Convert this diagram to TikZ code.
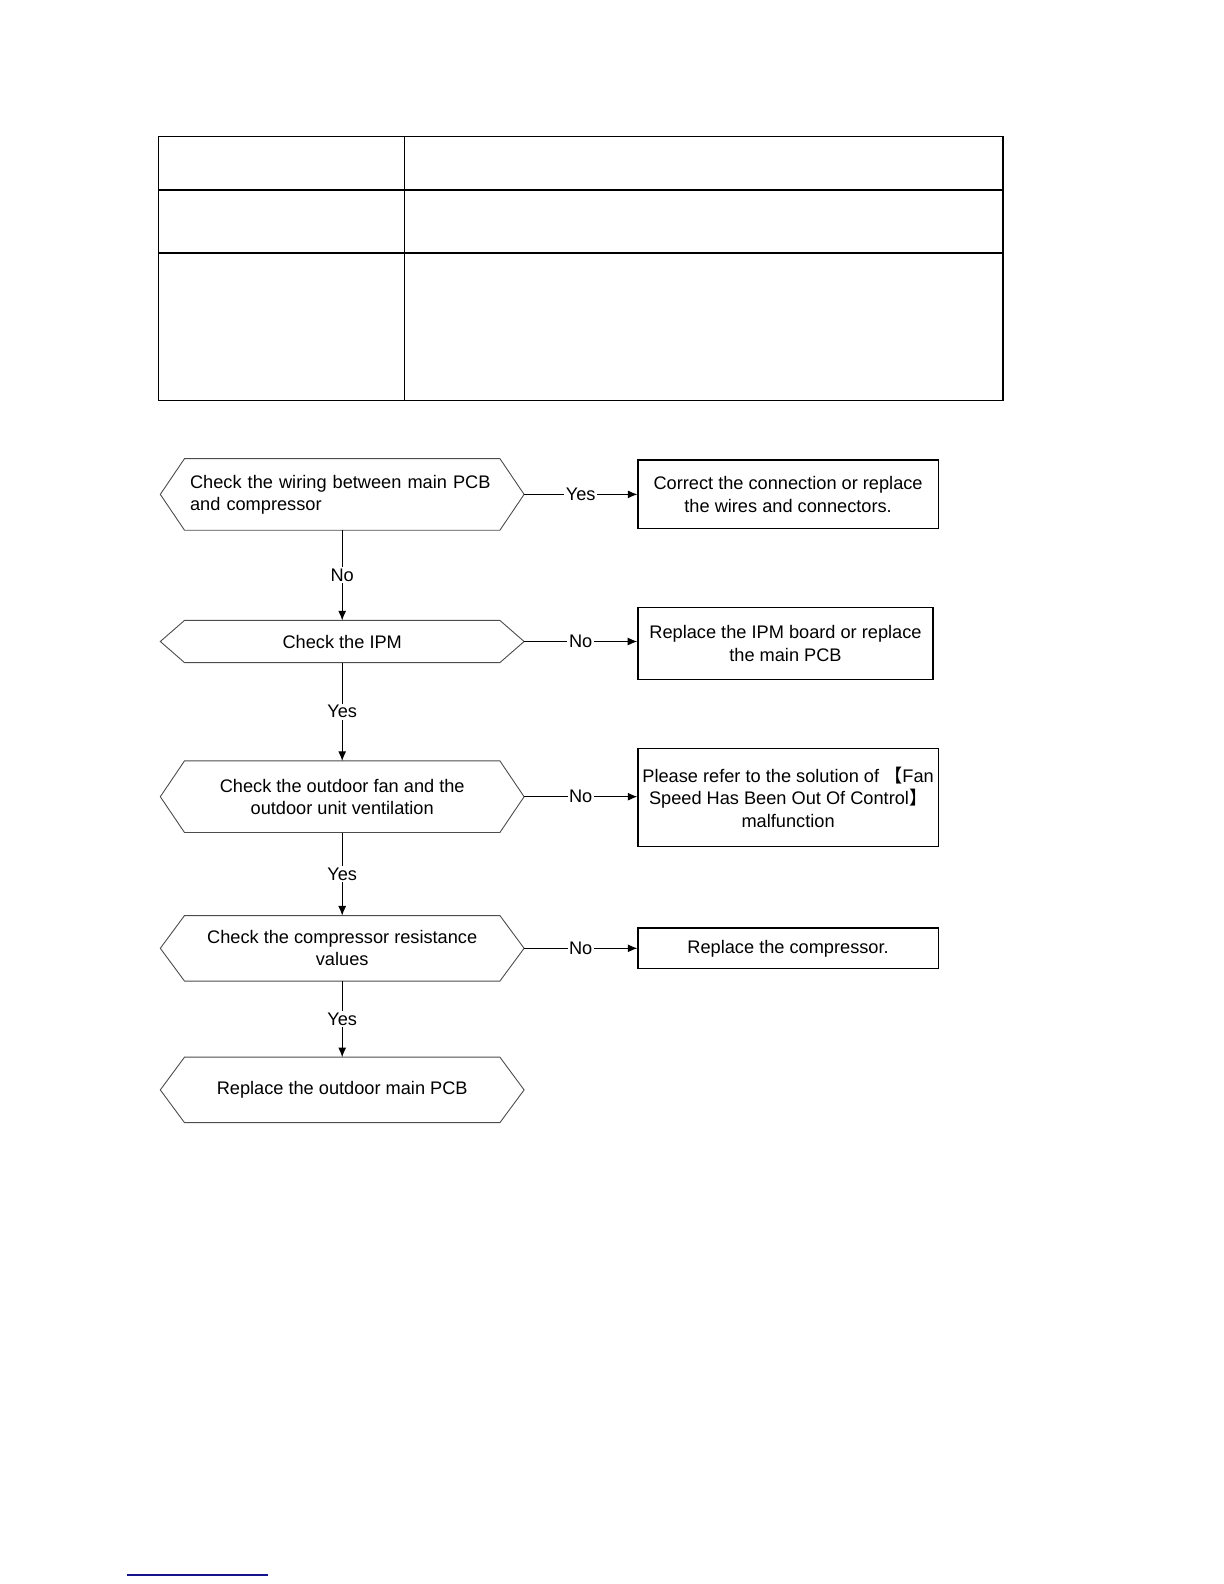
\documentclass[tikz,border=0pt]{standalone}
\usepackage{fontspec}
\setmainfont{Liberation Sans}
\newfontfamily\cjk{Noto Sans CJK SC}
\usetikzlibrary{arrows.meta}
\definecolor{linkblue}{RGB}{20,20,140}
\begin{document}
\begin{tikzpicture}[x=0.5pt,y=-0.5pt,
  txt/.style={font=\fontsize{9.1}{11.1}\selectfont},
  hexnode/.style={txt, minimum width=181.5pt, inner sep=0pt, align=center},
  hexline/.style={line width=0.45pt, draw=black!70},
  box/.style={txt, draw, line width=0.65pt, inner sep=0pt, align=center},
  arr/.style={-{Latex[length=4.8pt,width=4pt]}, line width=0.5pt},
  lbl/.style={txt, fill=white, inner sep=0.8pt},
  tbl/.style={line width=0.7pt}]
\useasboundingbox (0,0) rectangle (1224,1584);

% table
\draw[tbl] (158.7,136.5) rectangle (1003,400.4);
\draw[tbl] (404.4,136.5) -- (404.4,400.4);
\draw[tbl] (158.7,190.1) -- (1003,190.1);
\draw[tbl] (158.7,252.8) -- (1003,252.8);

% decision nodes
\node[hexnode, minimum height=35.4pt, align=left, text width=152.1pt, inner xsep=14.7pt] (h1) at (342.2,494.4)
  {Check the wiring between main PCB\\and compressor};
\node[hexnode, minimum height=20.7pt] (h2) at (342.2,641.5) {Check the IPM};
\node[hexnode, minimum height=35.4pt] (h3) at (342.2,796.7) {Check the outdoor fan and the\\outdoor unit ventilation};
\node[hexnode, minimum height=32.35pt] (h4) at (342.2,948.3) {Check the compressor resistance\\values};
\node[hexnode, minimum height=32.35pt] (h5) at (342.2,1089.9) {Replace the outdoor main PCB};

\foreach \n in {h1,h2,h3,h4,h5}
  \draw[hexline] (\n.west) -- ([xshift=12.1pt]\n.north west) -- ([xshift=-12.1pt]\n.north east)
    -- (\n.east) -- ([xshift=-12.1pt]\n.south east) -- ([xshift=12.1pt]\n.south west) -- cycle;

% action boxes
\node[box, minimum width=150.1pt, minimum height=34.4pt] (b1) at (788.1,494.4)
  {Correct the connection or replace\\the wires and connectors.};
\node[box, minimum width=147.6pt, minimum height=35.9pt] (b2) at (785.5,643.5)
  {Replace the IPM board or replace\\the main PCB};
\node[box, minimum width=150.1pt, minimum height=49pt] (b3) at (788.1,797.2)
  {Please refer to the solution of {\cjk 【}Fan\\Speed Has Been Out Of Control{\cjk 】}\\malfunction};
\node[box, minimum width=150.1pt, minimum height=20.2pt] (b4) at (788.1,948.3)
  {Replace the compressor.};

% vertical connectors
\draw[arr] (h1.south) -- node[lbl] {No} (h2.north);
\draw[arr] (h2.south) -- node[lbl] {Yes} (h3.north);
\draw[arr] (h3.south) -- node[lbl] {Yes} (h4.north);
\draw[arr] (h4.south) -- node[lbl] {Yes} (h5.north);

% horizontal connectors
\draw[arr] (h1.east) -- node[lbl] {Yes} (h1.east -| b1.west);
\draw[arr] (h2.east) -- node[lbl] {No} (h2.east -| b2.west);
\draw[arr] (h3.east) -- node[lbl] {No} (h3.east -| b3.west);
\draw[arr] (h4.east) -- node[lbl] {No} (h4.east -| b4.west);

% footer rule
\draw[linkblue, line width=0.6pt] (127,1575) -- (268,1575);
\end{tikzpicture}
\end{document}
